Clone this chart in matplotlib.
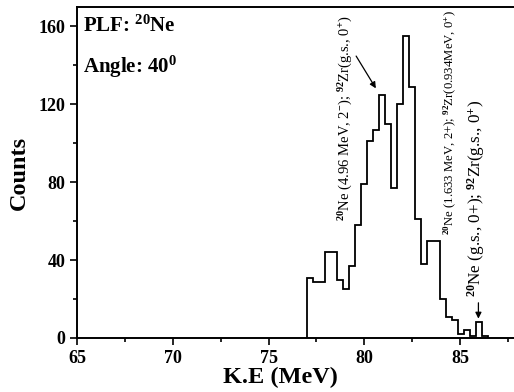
import numpy as np
import matplotlib
matplotlib.use("Agg")
import matplotlib.pyplot as plt

plt.rcParams.update({
    "font.family": "Liberation Serif",
    "font.weight": "bold",
    "mathtext.fontset": "custom",
    "mathtext.rm": "Liberation Serif",
    "mathtext.it": "Liberation Serif:italic",
    "mathtext.bf": "Liberation Serif:bold",
})

# spectrum (bins ~0.315 MeV wide starting at 77 MeV)
bin_start = 77.0
bin_width = 0.315
counts = [31, 29, 29, 44, 44, 30, 25, 37, 58, 79,
          101, 107, 125, 110, 77, 120, 155, 129, 61, 38,
          50, 50, 20, 11, 9, 2, 4, 1, 8, 1]

x_ticks = [65, 70, 75, 80, 85]
y_ticks = [0, 40, 80, 120, 160]

label_gs2 = r"$^{20}$Ne (4.96 MeV, 2$^{-}$); $^{92}$Zr(g.s., 0$^{+}$)"
label_exc = r"$^{20}$Ne (1.633 MeV, 2+); $^{92}$Zr(0.934MeV, 0$^{+}$)"
label_gs = r"$^{20}$Ne (g.s., 0+); $^{92}$Zr(g.s., 0$^{+}$)"

edges = bin_start + bin_width * np.arange(len(counts) + 1)

fig = plt.figure(figsize=(5.14, 3.92), dpi=100)
# the original is cropped on the right, so the axes run past the figure edge
ax = fig.add_axes([0.1498, 0.1378, 0.9315, 0.8444])

ax.stairs(counts, edges, baseline=0, fill=False, color="black", lw=1.3)

ax.set_xlim(65, 90)
ax.set_ylim(0, 170)
ax.set_xticks(x_ticks)
ax.set_yticks(y_ticks)
ax.set_xticks([67.5, 72.5, 77.5, 82.5, 87.5], minor=True)
ax.set_yticks([20, 60, 100, 140], minor=True)
ax.tick_params(which="both", direction="out", width=1.2, labelsize=13)
ax.tick_params(which="major", length=5)
ax.tick_params(which="minor", length=3)
for lab in ax.get_xticklabels() + ax.get_yticklabels():
    lab.set_fontweight("bold")
for s in ax.spines.values():
    s.set_linewidth(1.4)

ax.set_xlabel("K.E (MeV)", fontsize=17.5, fontweight="bold")
ax.xaxis.set_label_coords(0.424, -0.088)
ax.set_ylabel("Counts", fontsize=17.5, fontweight="bold", labelpad=6)

ax.text(0.012, 0.975, r"PLF: $^{\mathbf{20}}$Ne", transform=ax.transAxes,
        fontsize=15, fontweight="bold", va="top", ha="left")
ax.text(0.012, 0.86, r"Angle: 40$^{\mathbf{0}}$", transform=ax.transAxes,
        fontsize=15, fontweight="bold", va="top", ha="left")

ax.text(79.05, 60, label_gs2, rotation=90, ha="center", va="bottom",
        fontsize=10.5, fontweight="normal")
ax.text(84.5, 53, label_exc, rotation=90, ha="center", va="bottom",
        fontsize=9.2, fontweight="normal")
ax.text(85.85, 21, label_gs, rotation=90, ha="center", va="bottom",
        fontsize=12.3, fontweight="normal")

arrow = dict(arrowstyle="-|>", color="black", lw=0.9, mutation_scale=9)
ax.annotate("", xy=(80.68, 127), xytext=(79.5, 146), arrowprops=arrow)
ax.annotate("", xy=(85.96, 8.5), xytext=(85.96, 19.5), arrowprops=arrow)

fig.savefig("out.png", dpi=100)
